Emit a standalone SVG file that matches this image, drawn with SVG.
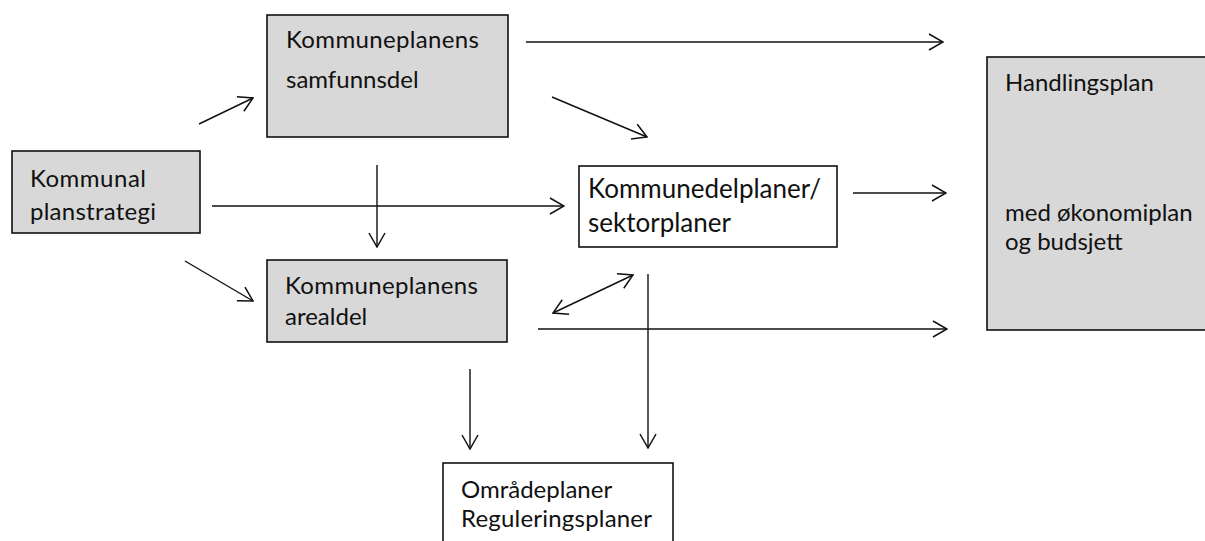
<svg xmlns="http://www.w3.org/2000/svg" width="1205" height="541" viewBox="0 0 1205 541">
<defs>
<style>
.box{stroke:#111;stroke-width:1.6}
.grey{fill:#d8d8d8}
.white{fill:#fff}
.t{font-family:Lato,"Open Sans","Liberation Sans",sans-serif;font-size:24px;fill:#111}
.big{font-size:26px}
.c{stroke:#111;stroke-width:1.4;fill:none}
.a{marker-end:url(#ah)}
.d{marker-end:url(#ah);marker-start:url(#ah)}
</style>
<marker id="ah" viewBox="0 0 16 20" refX="15" refY="10" markerWidth="16" markerHeight="20" markerUnits="userSpaceOnUse" orient="auto-start-reverse">
<path d="M1,2 L15,10 L1,18" fill="none" stroke="#111" stroke-width="1.5"/>
</marker>
</defs>
<rect width="1205" height="541" fill="#fff"/>
<g id="samfunnsdel">
<rect class="box grey" x="267" y="15" width="241" height="122"/>
<text class="t" x="286" y="48" textLength="193" lengthAdjust="spacing">Kommuneplanens</text>
<text class="t" x="286" y="88">samfunnsdel</text>
</g>
<g id="planstrategi">
<rect class="box grey" x="12" y="151" width="188" height="82"/>
<text class="t" x="30" y="187" textLength="116" lengthAdjust="spacing">Kommunal</text>
<text class="t" x="30" y="220" textLength="126" lengthAdjust="spacing">planstrategi</text>
</g>
<g id="kommunedelplaner">
<rect class="box white" x="579" y="166" width="258" height="81"/>
<text class="t big" x="588" y="198">Kommunedelplaner/</text>
<text class="t big" x="588" y="232">sektorplaner</text>
</g>
<g id="handlingsplan">
<rect class="box grey" x="987" y="57" width="230" height="273"/>
<text class="t" x="1005" y="91">Handlingsplan</text>
<text class="t" x="1005" y="221">med økonomiplan</text>
<text class="t" x="1005" y="250">og budsjett</text>
</g>
<g id="arealdel">
<rect class="box grey" x="267" y="260" width="240" height="82"/>
<text class="t" x="285" y="294" textLength="193" lengthAdjust="spacing">Kommuneplanens</text>
<text class="t" x="285" y="325">arealdel</text>
</g>
<g id="omradeplaner">
<rect class="box white" x="443" y="463" width="230" height="90"/>
<text class="t" x="461" y="498">Områdeplaner</text>
<text class="t" x="461" y="527" textLength="191" lengthAdjust="spacing">Reguleringsplaner</text>
</g>
<g id="connectors">
<line class="c a" x1="199" y1="124" x2="253" y2="98"/>
<line class="c a" x1="526" y1="42" x2="943" y2="42"/>
<line class="c a" x1="552" y1="97" x2="647" y2="137"/>
<line class="c a" x1="377" y1="165" x2="377" y2="247"/>
<line class="c a" x1="212" y1="206" x2="564" y2="206"/>
<line class="c a" x1="853" y1="193" x2="946" y2="193"/>
<line class="c a" x1="185" y1="261" x2="253" y2="301"/>
<line class="c d" x1="553" y1="313" x2="633" y2="275"/>
<line class="c a" x1="538" y1="329" x2="947" y2="329"/>
<line class="c a" x1="648" y1="274" x2="648" y2="448"/>
<line class="c a" x1="470" y1="369" x2="470" y2="449"/>
</g>
</svg>
